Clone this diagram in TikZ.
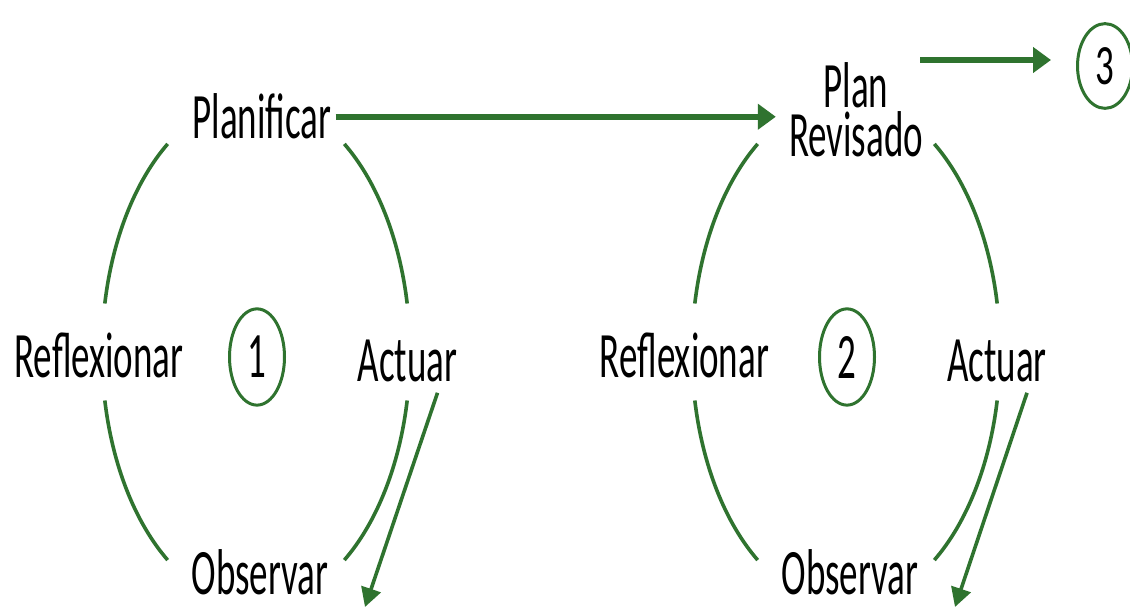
\documentclass[tikz,border=0pt]{standalone}
\usepackage{fontspec}
\setmainfont{Carlito}
\usetikzlibrary{arrows.meta}
\definecolor{cgreen}{RGB}{47,115,47}
\begin{document}
\begin{tikzpicture}[x=1pt,y=1pt,
  lbl/.style={font=\fontsize{37}{26}\selectfont, yscale=1.75, inner sep=4pt, text=black, align=center},
  num/.style={circle, draw=cgreen, line width=3pt, minimum size=55pt, inner sep=0pt, yscale=1.75, text=black, font=\fontsize{37}{26}\selectfont},
  arcline/.style={draw=cgreen, line width=3.6pt},
  thinarrow/.style={draw=cgreen, line width=3.6pt, -{Triangle[length=19pt,width=20pt]}},
  bigarrow/.style={draw=cgreen, line width=6.5pt, -{Triangle[length=18pt,width=25pt]}}]
\useasboundingbox[fill=white] (0,0) rectangle (1130,613);

% ---------- cycle 1 ----------
\node[lbl, anchor=base] (plan1) at (262,474) {Planificar};
\node[lbl, anchor=base] (refl1) at (99,235) {Reflexionar};
\node[lbl, anchor=base] (act1) at (407.5,231) {Actuar};
\node[lbl, anchor=base] (obs1) at (260,18) {Observar};
\node[num] (c1) at (257,256) {1};
\coordinate (e1) at (256,261);
\path (e1) ++(125:154 and 254) coordinate (tl1);
\path (e1) ++(55:154 and 254) coordinate (tr1);
\path (e1) ++(191:154 and 254) coordinate (bl1);
\path (e1) ++(-11:154 and 254) coordinate (br1);
\draw[arcline] (tl1) arc[start angle=125, end angle=169, x radius=154, y radius=254];
\draw[arcline] (tr1) arc[start angle=55, end angle=11, x radius=154, y radius=254];
\draw[arcline] (bl1) arc[start angle=191, end angle=235, x radius=154, y radius=254];
\draw[arcline] (br1) arc[start angle=-11, end angle=-55, x radius=154, y radius=254];
\coordinate (tip1) at (365,6);
\draw[thinarrow] ([shift={(30,-3)}]act1.south) -- (tip1);

% ---------- cycle 2 ----------
\node[lbl, anchor=south, font=\fontsize{37}{27.6}\selectfont] (rev) at (856,449) {Plan\\Revisado};
\node[lbl, anchor=base] (refl2) at (684.5,235) {Reflexionar};
\node[lbl, anchor=base] (act2) at (997,231) {Actuar};
\node[lbl, anchor=base] (obs2) at (850,18) {Observar};
\node[num] (c2) at (847,256) {2};
\coordinate (e2) at (846,261);
\path (e2) ++(125:154 and 254) coordinate (tl2);
\path (e2) ++(55:154 and 254) coordinate (tr2);
\path (e2) ++(191:154 and 254) coordinate (bl2);
\path (e2) ++(-11:154 and 254) coordinate (br2);
\draw[arcline] (tl2) arc[start angle=125, end angle=169, x radius=154, y radius=254];
\draw[arcline] (tr2) arc[start angle=55, end angle=11, x radius=154, y radius=254];
\draw[arcline] (bl2) arc[start angle=191, end angle=235, x radius=154, y radius=254];
\draw[arcline] (br2) arc[start angle=-11, end angle=-55, x radius=154, y radius=254];
\coordinate (tip2) at (955,6);
\draw[thinarrow] ([shift={(30,-3)}]act2.south) -- (tip2);

% ---------- links ----------
\draw[bigarrow, shorten >=9pt] (plan1.east) -- (plan1.east -| rev.west);
\node[num, yscale=0.88] (c3) at (1105,547) {3};
\coordinate (s3) at (920,553);
\draw[bigarrow, shorten >=25pt] (s3) -- (s3 -| c3.west);
\end{tikzpicture}
\end{document}
